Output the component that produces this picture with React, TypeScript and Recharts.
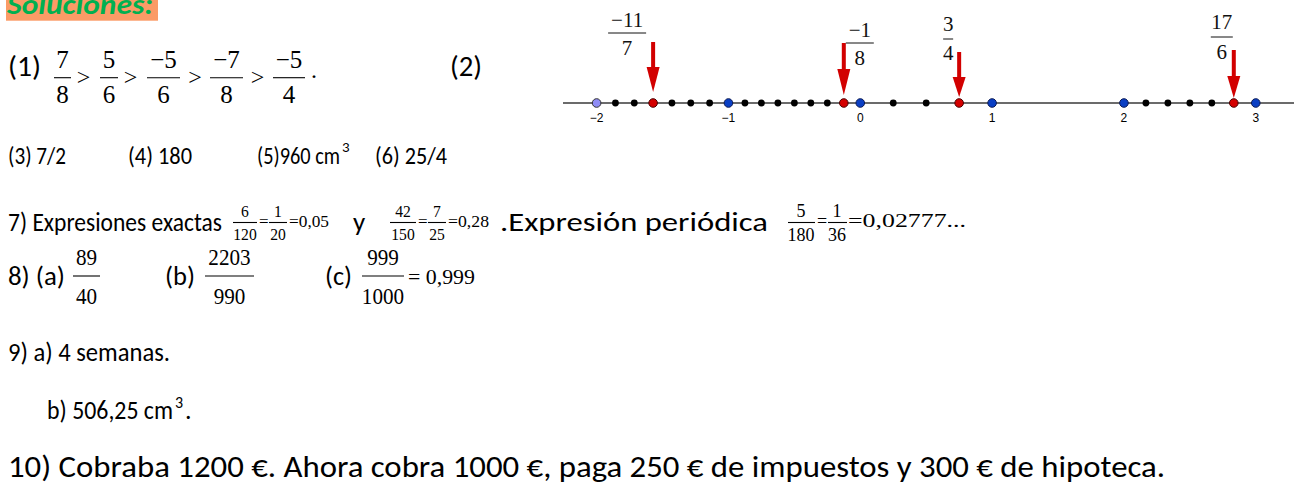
import React from "react";
import { ScatterChart, Scatter, XAxis, YAxis } from "recharts";

const SANS = "Carlito, Lato, 'Liberation Sans', sans-serif";
const SERIF = "'Liberation Serif', 'Times New Roman', serif";

// number line of exercise (2)
const axisTicks = [-2, -1, 0, 1, 2, 3];
const originPoint = [-2];
const integerPoints = [-1, 0, 1, 2, 3];
const stepPoints = [
  -13 / 7, -12 / 7, -10 / 7, -9 / 7, -8 / 7,
  -7 / 8, -6 / 8, -5 / 8, -4 / 8, -3 / 8, -2 / 8,
  1 / 4, 2 / 4,
  13 / 6, 14 / 6, 15 / 6, 16 / 6,
];
const markedPoints = [-11 / 7, -1 / 8, 3 / 4, 17 / 6];
const markedNum = ["−11", "−1", "3", "17"];
const markedDen = ["7", "8", "4", "6"];

// arrow and label placement, in px relative to the marked dot
const arrowLayout = [
  { top: -61, tip: -11, head: 25, nx: -26, ny: -76, bx: [-45, -7], by: -70, dy: -48 },
  { top: -60, tip: -8, head: 26, nx: 16, ny: -66, bx: [2, 30], by: -60, dy: -38 },
  { top: -51, tip: -6, head: 20, nx: -11, ny: -72, bx: [-16, -6], by: -64, dy: -43 },
  { top: -53, tip: -5, head: 22, nx: -12, ny: -74, bx: [-23, -1], by: -66, dy: -44 },
];

const rows = (xs: number[]) => xs.map((x, i) => ({ x, y: 0, i }));

const dot = (r: number, fill: string, stroke: string) => (p: any) => (
  <circle cx={p.cx} cy={p.cy} r={r} fill={fill} stroke={stroke} strokeWidth={stroke === "none" ? 0 : 1} />
);

function Arrow(p: any) {
  const i = p.payload.i;
  const a = arrowLayout[i];
  const { cx, cy } = p;
  const hb = cy + a.tip - a.head;
  return (
    <g>
      <rect x={cx - 2} y={cy + a.top} width={4} height={hb - (cy + a.top)} fill="#d20000" />
      <polygon points={`${cx - 6.5},${hb} ${cx + 6.5},${hb} ${cx},${cy + a.tip}`} fill="#d20000" />
      <g fontFamily={SERIF} fontSize={21} textAnchor="middle" fill="#111">
        <text x={cx + a.nx} y={cy + a.ny}>{markedNum[i]}</text>
        <line x1={cx + a.bx[0]} x2={cx + a.bx[1]} y1={cy + a.by} y2={cy + a.by} stroke="#111" strokeWidth={1} />
        <text x={cx + a.nx} y={cy + a.dy}>{markedDen[i]}</text>
      </g>
    </g>
  );
}

function NumberLine() {
  return (
    <ScatterChart width={754} height={130} margin={{ top: 0, right: 0, bottom: 0, left: 23 }}>
      <XAxis
        type="number"
        dataKey="x"
        domain={[-2.255, 3.29]}
        allowDataOverflow
        ticks={axisTicks}
        interval={0}
        height={27}
        tickLine={false}
        tickSize={8}
        tickMargin={2}
        axisLine={{ stroke: "#3a3a3a", strokeWidth: 1.6 }}
        tick={{ fill: "#000", fontSize: 12, fontFamily: "'Liberation Sans', Arial, sans-serif" }}
        tickFormatter={(v: number) => String(v).replace("-", "−")}
      />
      <YAxis type="number" dataKey="y" domain={[0, 103]} hide />
      <Scatter data={rows(markedPoints)} shape={Arrow} isAnimationActive={false} />
      <Scatter data={rows(stepPoints)} shape={dot(3.4, "#000", "none")} isAnimationActive={false} />
      <Scatter data={rows(originPoint)} shape={dot(4.3, "#8f8cf5", "#333")} isAnimationActive={false} />
      <Scatter data={rows(integerPoints)} shape={dot(4.3, "#0a3fc4", "#0a1a55")} isAnimationActive={false} />
      <Scatter data={rows(markedPoints)} shape={dot(4.3, "#d40000", "#4a0000")} isAnimationActive={false} />
    </ScatterChart>
  );
}

const T = ({ x, y, s = 24, w, f = SANS, a, children, ...rest }: any) => (
  <text
    x={x}
    y={y}
    fontSize={s}
    fontFamily={f}
    textAnchor={a}
    textLength={w}
    lengthAdjust={w ? "spacingAndGlyphs" : undefined}
    {...rest}
  >
    {children}
  </text>
);

const Frac = ({ cx, x0, x1, nb, bar, db, n, d, s, sx = 1 }: any) => (
  <g fontFamily={SERIF} fontSize={s} textAnchor="middle">
    <g transform={`translate(${cx},0) scale(${sx},1) translate(${-cx},0)`}>
      <text x={cx} y={nb}>{n}</text>
      <text x={cx} y={db}>{d}</text>
    </g>
    <line x1={x0} x2={x1} y1={bar} y2={bar} stroke="#000" strokeWidth={1.1} />
  </g>
);

export default function App() {
  const r1 = { nb: 68, bar: 77.7, db: 103, s: 25 };
  const r7 = { nb: 217, bar: 222.5, db: 240.5, s: 17, sx: 0.92 };
  const r7b = { nb: 217, bar: 222.5, db: 240.5, s: 18 };
  const r8 = { nb: 265.5, bar: 276, db: 304.5, s: 23, sx: 0.92 };
  return (
    <div style={{ position: "absolute", left: 0, top: 0, width: 1294, height: 496, background: "#fff", overflow: "hidden" }}>
      <svg width={1294} height={496} style={{ position: "absolute", left: 0, top: 0 }}>
        <rect x={6} y={0} width={152} height={20.7} fill="#fb9b66" />
        <T x={7} y={13.5} s={29} w={146} fill="#00b050" fontWeight="bold" fontStyle="italic">Soluciones:</T>

        <T x={8} y={75.5} s={28} w={33}>(1)</T>
        <Frac {...r1} cx={62.5} x0={54} x1={71} n="7" d="8" />
        <T x={83.5} y={84.5} s={24} f={SERIF} a="middle">&gt;</T>
        <Frac {...r1} cx={109} x0={100} x1={118} n="5" d="6" />
        <T x={130.5} y={84.5} s={24} f={SERIF} a="middle">&gt;</T>
        <Frac {...r1} cx={163.5} x0={147} x1={180} n="−5" d="6" />
        <T x={195} y={84.5} s={24} f={SERIF} a="middle">&gt;</T>
        <Frac {...r1} cx={226.5} x0={210} x1={243} n="−7" d="8" />
        <T x={257.5} y={84.5} s={24} f={SERIF} a="middle">&gt;</T>
        <Frac {...r1} cx={289} x0={273} x1={305} n="−5" d="4" />
        <T x={311} y={78} s={24} f={SERIF}>.</T>
        <T x={450} y={75.5} s={28} w={32}>(2)</T>

        <T x={8} y={163.5} s={24} w={58}>(3) 7/2</T>
        <T x={128} y={163.5} s={24} w={64}>(4) 180</T>
        <T x={257} y={163.5} s={24} w={83}>(5)960 cm</T>
        <T x={342} y={152} s={15}>3</T>
        <T x={375} y={163.5} s={24} w={72}>(6) 25/4</T>

        <T x={8} y={231} s={27} w={214}>7) Expresiones exactas</T>
        <Frac {...r7} cx={245} x0={233} x1={257} n="6" d="120" />
        <T x={259} y={226.5} s={17} f={SERIF}>=</T>
        <Frac {...r7} cx={278} x0={269} x1={287} n="1" d="20" />
        <T x={289} y={226.5} s={17} f={SERIF} w={40}>=0,05</T>
        <T x={353} y={231} s={27}>y</T>
        <Frac {...r7} cx={403} x0={390} x1={416} n="42" d="150" />
        <T x={418} y={226.5} s={17} f={SERIF}>=</T>
        <Frac {...r7} cx={437} x0={428} x1={446} n="7" d="25" />
        <T x={448} y={226.5} s={17} f={SERIF} w={41}>=0,28</T>
        <T x={500} y={231} s={27} w={268}>.Expresión periódica</T>
        <Frac {...r7b} cx={801} x0={788} x1={815} n="5" d="180" />
        <T x={817} y={226.5} s={18} f={SERIF}>=</T>
        <Frac {...r7b} cx={837} x0={828} x1={847} n="1" d="36" />
        <T x={848} y={226.5} s={18} f={SERIF} w={118}>=0,02777...</T>

        <T x={8} y={285} s={27} w={57}>8) (a)</T>
        <Frac {...r8} cx={86.5} x0={73} x1={100} n="89" d="40" />
        <T x={165} y={285} s={27} w={30}>(b)</T>
        <Frac {...r8} cx={229.5} x0={205} x1={254} n="2203" d="990" />
        <T x={325} y={285} s={27} w={27}>(c)</T>
        <Frac {...r8} cx={383} x0={362} x1={404} n="999" d="1000" />
        <T x={408} y={283.5} s={22} f={SERIF} w={67}>= 0,999</T>

        <T x={8} y={361} s={26} w={162}>9) a) 4 semanas.</T>
        <T x={47} y={419} s={26} w={126}>b) 506,25 cm</T>
        <T x={175} y={408} s={16}>3</T>
        <T x={185} y={419} s={26}>.</T>

        <T x={8} y={477} s={30} w={1157}>10) Cobraba 1200 €. Ahora cobra 1000 €, paga 250 € de impuestos y 300 € de hipoteca.</T>
      </svg>
      <div style={{ position: "absolute", left: 540, top: 0 }}>
        <NumberLine />
      </div>
    </div>
  );
}
